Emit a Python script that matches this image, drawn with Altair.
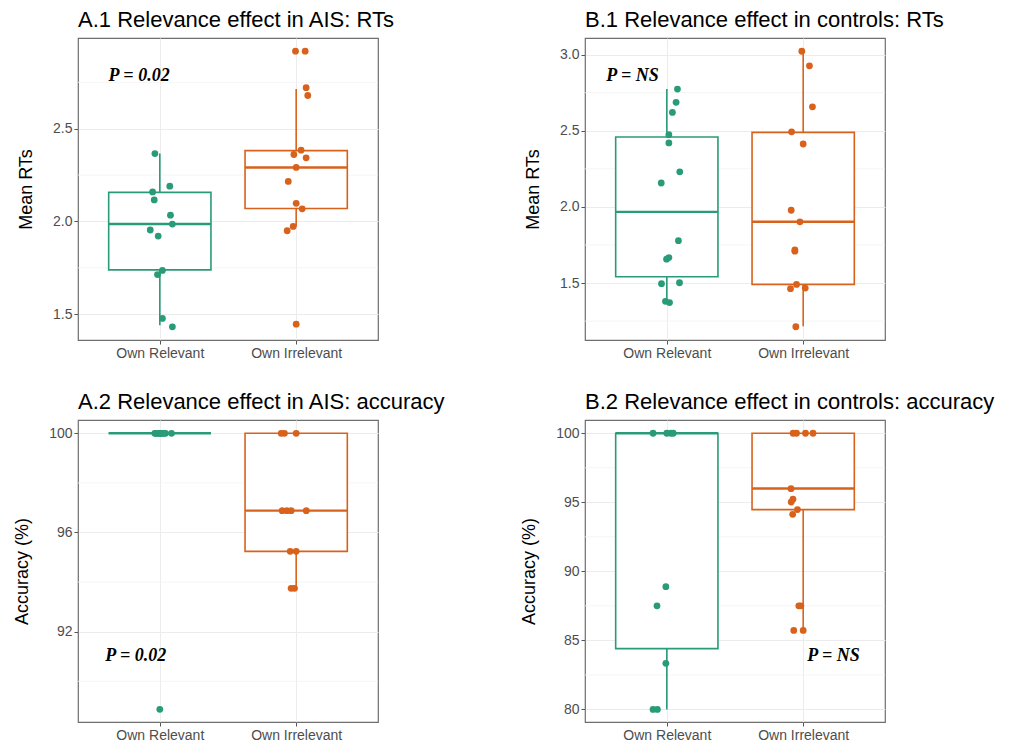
import altair as alt
import pandas as pd

GREEN = "#2a9b78"
ORANGE = "#d8621c"
GROUPS = ["Own Relevant", "Own Irrelevant"]

# ---------- A.1 RTs (AIS) ----------
a1_rel_vals = [2.366, 2.19, 2.159, 2.116, 2.034, 1.986, 1.954, 1.921, 1.736, 1.714, 1.477, 1.432]
a1_rel_jit = [-0.036, 0.073, -0.053, -0.041, 0.078, 0.092, -0.07, -0.012, 0.019, -0.017, 0.019, 0.092]
a1_irr_vals = [2.918, 2.918, 2.721, 2.679, 2.384, 2.361, 2.343, 2.291, 2.216, 2.098, 2.068, 1.973, 1.95, 1.446]
a1_irr_jit = [-0.005, 0.066, 0.073, 0.085, 0.036, -0.017, 0.073, 0.0, -0.058, 0.0, 0.044, -0.022, -0.066, 0.0]
# box stats: lo, q1, median, q3, hi
a1_box = [[1.441, 1.739, 1.986, 2.157, 2.366], [1.973, 2.07, 2.291, 2.382, 2.714]]

# ---------- B.1 RTs (controls) ----------
b1_rel_vals = [2.774, 2.687, 2.62, 2.474, 2.42, 2.23, 2.157, 1.778, 1.667, 1.657, 1.496, 1.502, 1.38, 1.372]
b1_rel_jit = [0.078, 0.068, 0.041, 0.015, 0.015, 0.095, -0.041, 0.085, 0.015, -0.002, -0.039, 0.093, -0.01, 0.02]
b1_irr_vals = [3.022, 2.926, 2.657, 2.493, 2.413, 1.978, 1.902, 1.717, 1.709, 1.491, 1.463, 1.467, 1.213]
b1_irr_jit = [-0.01, 0.046, 0.068, -0.085, 0.0, -0.088, -0.024, -0.061, -0.061, -0.049, -0.093, 0.015, -0.054]
b1_box = [[1.376, 1.541, 1.967, 2.459, 2.774], [1.217, 1.491, 1.902, 2.489, 3.022]]

# ---------- A.2 accuracy (AIS) ----------
a2_rel_vals = [100, 100, 100, 100, 100, 100, 100, 100, 100, 100, 100, 88.87]
a2_rel_jit = [-0.037, -0.03, -0.02, -0.012, 0.0, 0.005, 0.012, 0.02, 0.03, 0.042, 0.086, 0.0]
a2_irr_vals = [100, 100, 100, 96.88, 96.88, 96.88, 96.88, 95.24, 95.24, 93.75, 93.75]
a2_irr_jit = [-0.11, -0.086, 0.0, -0.103, -0.069, -0.037, 0.074, -0.044, 0.0, -0.037, -0.012]
a2_box = [[100, 100, 100, 100, 100], [93.75, 95.24, 96.88, 100, 100]]

# ---------- B.2 accuracy (controls) ----------
b2_rel_vals = [100, 100, 100, 100, 88.89, 87.5, 83.34, 80, 80]
b2_rel_jit = [-0.101, 0.0, 0.03, 0.047, -0.007, -0.072, -0.007, -0.101, -0.069]
b2_irr_vals = [100, 100, 100, 100, 95.99, 95.22, 95.02, 94.47, 94.13, 87.5, 87.5, 85.72, 85.72]
b2_irr_jit = [-0.074, -0.049, 0.017, 0.072, -0.089, -0.075, -0.088, -0.042, -0.077, -0.032, -0.017, -0.069, 0.0]
b2_box = [[80, 84.4, 100, 100, 100], [85.72, 94.47, 96.0, 100, 100]]

W, H = 300, 302


def points_df(rel_vals, rel_jit, irr_vals, irr_jit):
    rows = []
    for v, j in zip(rel_vals, rel_jit):
        rows.append({"grp": GROUPS[0], "g": 1, "jit": j, "value": v})
    for v, j in zip(irr_vals, irr_jit):
        rows.append({"grp": GROUPS[1], "g": 2, "jit": j, "value": v})
    return pd.DataFrame(rows)


def box_df(box):
    rows = []
    for i, b in enumerate(box):
        rows.append({"grp": GROUPS[i], "g": i + 1, "lo": b[0], "q1": b[1],
                     "med": b[2], "q3": b[3], "hi": b[4]})
    return pd.DataFrame(rows)


def panel(title, ytitle, domain, major, minor, fmt, pts, box, ptext, px, py):
    xs = alt.Scale(domain=[0.4, 2.6], nice=False, zero=False)
    ys = alt.Scale(domain=domain, nice=False, zero=False)
    col = alt.Scale(domain=GROUPS, range=[GREEN, ORANGE])
    xaxis = alt.Axis(values=[1, 2], title=None,
                     labelExpr="datum.value == 1 ? 'Own Relevant' : 'Own Irrelevant'")
    yaxis = alt.Axis(values=major, format=fmt, title=ytitle)

    minor_df = pd.DataFrame({"m": minor})
    minor_layer = alt.Chart(minor_df).mark_rule(color="#f3f3f3", strokeWidth=0.8).encode(
        y=alt.Y("m:Q", scale=ys, axis=yaxis),
        x=alt.value(0), x2=alt.value(W))

    bdf = box_df(box)
    base_b = alt.Chart(bdf).transform_calculate(
        xl="datum.g - 0.375", xr="datum.g + 0.375")
    whisk = base_b.mark_rule(strokeWidth=1.6).encode(
        x=alt.X("g:Q", scale=xs, axis=xaxis),
        y=alt.Y("lo:Q", scale=ys), y2="hi:Q",
        color=alt.Color("grp:N", scale=col, legend=None))
    rect = base_b.mark_rect(fill="white", strokeWidth=1.6).encode(
        x=alt.X("xl:Q", scale=xs), x2="xr:Q",
        y=alt.Y("q1:Q", scale=ys), y2="q3:Q",
        stroke=alt.Color("grp:N", scale=col, legend=None))
    med = base_b.mark_rule(strokeWidth=2.4).encode(
        x=alt.X("xl:Q", scale=xs), x2="xr:Q",
        y=alt.Y("med:Q", scale=ys),
        color=alt.Color("grp:N", scale=col, legend=None))

    pdf = points_df(*pts)
    dots = alt.Chart(pdf).transform_calculate(xp="datum.g + datum.jit").mark_circle(
        size=46, opacity=1).encode(
        x=alt.X("xp:Q", scale=xs),
        y=alt.Y("value:Q", scale=ys),
        color=alt.Color("grp:N", scale=col, legend=None))

    tdf = pd.DataFrame({"t": [ptext], "x": [px], "y": [py]})
    txt = alt.Chart(tdf).mark_text(
        font="Liberation Serif", fontSize=18, fontWeight="bold", fontStyle="italic",
        align="left", baseline="middle", color="black").encode(
        x=alt.X("x:Q", scale=xs), y=alt.Y("y:Q", scale=ys), text="t:N")

    return alt.layer(minor_layer, whisk, rect, med, dots, txt).resolve_scale(
        color="shared").properties(
        width=W, height=H,
        title=alt.TitleParams(title, anchor="start", frame="group", fontSize=22,
                              font="Liberation Sans", fontWeight="normal",
                              color="black", offset=6))


a1 = panel("A.1 Relevance effect in AIS: RTs", "Mean RTs", [1.361, 2.989],
           [1.5, 2.0, 2.5], [1.75, 2.25, 2.75], ".1f",
           (a1_rel_vals, a1_rel_jit, a1_irr_vals, a1_irr_jit), a1_box,
           "P = 0.02", 0.624, 2.786)
b1 = panel("B.1  Relevance effect in controls: RTs", "Mean RTs", [1.126, 3.109],
           [1.5, 2.0, 2.5, 3.0], [1.25, 1.75, 2.25, 2.75], ".1f",
           (b1_rel_vals, b1_rel_jit, b1_irr_vals, b1_irr_jit), b1_box,
           "P = NS", 0.556, 2.861)
a2 = panel("A.2 Relevance effect in AIS: accuracy", "Accuracy (%)", [88.36, 100.535],
           [92, 96, 100], [90, 94, 98], "d",
           (a2_rel_vals, a2_rel_jit, a2_irr_vals, a2_irr_jit), a2_box,
           "P = 0.02", 0.6, 91.01)
b2 = panel("B.2  Relevance effect in controls: accuracy", "Accuracy (%)", [79.09, 100.96],
           [80, 85, 90, 95, 100], [82.5, 87.5, 92.5, 97.5], "d",
           (b2_rel_vals, b2_rel_jit, b2_irr_vals, b2_irr_jit), b2_box,
           "P = NS", 2.03, 83.9)

chart = alt.concat(a1, b1, a2, b2, columns=2, spacing={"row": 80, "column": 207},
                   bounds="flush").resolve_scale(x="independent", y="independent").properties(
    background="white", padding={"left": 5, "top": 0, "right": 5, "bottom": 0}
).configure_view(
    stroke="#6e6e6e", strokeWidth=1.2
).configure_axis(
    grid=True, gridColor="#ececec", gridWidth=1, domain=False,
    tickColor="#555555", tickSize=4, tickWidth=1,
    labelColor="#4d4d4d", labelFont="Liberation Sans", labelFontSize=14, labelPadding=2,
    titleFont="Liberation Sans", titleFontSize=18, titleFontWeight="normal",
    titleColor="black", titlePadding=17
)

chart.save("out.html", embed_options={"renderer": "svg", "actions": False})
